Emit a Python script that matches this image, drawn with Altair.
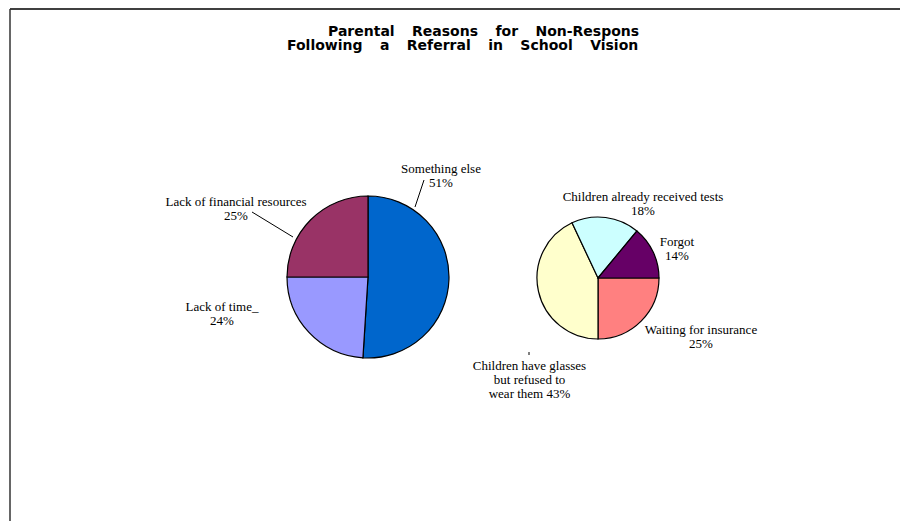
import math
import pandas as pd
import altair as alt

# ---------------- data ----------------
left_cats = ["Something else", "Lack of time_", "Lack of financial resources"]
left_vals = [51, 24, 25]
left_colors = ["#0066CC", "#9999FF", "#993366"]

right_cats = ["Waiting for insurance",
              "Children have glasses\nbut refused to\nwear them",
              "Children already received tests",
              "Forgot"]
right_vals = [25, 43, 18, 14]
right_colors = ["#FF8080", "#FFFFCC", "#CCFFFF", "#660066"]
right_joins = ["\n", " ", "\n", "\n"]

# the reference title is cut off at its right edge
title_lines = ["Parental Reasons for Non-Respons",
               "Following a Referral in School Vision"]

# ---------------- layout ----------------
W, H = 900, 521
LEFT_C, LEFT_R, LEFT_START = (368, 277), 81, 0.0
RIGHT_C, RIGHT_R, RIGHT_START = (598, 278), 61, math.pi / 2
# position of the first line of each label (centre x, middle y)
left_label_xy = [(441, 169), (222, 307), (236, 201.5)]
right_label_xy = [(701, 330), (529.5, 366), (643, 196.5), (677, 241.5)]
leader_lines = [(424, 180, 415, 207), (252, 212, 293, 237), (529, 352, 529, 355)]
title_xy = [(328, 36), (287, 50)]
GAP = "\u00a0" * 3 + "\u2009"


def pie(cats, vals, colors, center, r, start):
    df = pd.DataFrame({"cat": cats, "val": vals, "color": colors,
                       "ord": list(range(len(cats)))})
    return alt.Chart(df).mark_arc(radius=r, stroke="black", strokeWidth=1.2).encode(
        theta=alt.Theta("val:Q", stack=True,
                        scale=alt.Scale(domain=[0, sum(vals)],
                                        range=[start, start + 2 * math.pi])),
        color=alt.Color("color:N", scale=None),
        order=alt.Order("ord:Q"),
        x=alt.value(center[0]),
        y=alt.value(center[1]),
    )


left_pie = pie(left_cats, left_vals, left_colors, LEFT_C, LEFT_R, LEFT_START)
right_pie = pie(right_cats, right_vals, right_colors, RIGHT_C, RIGHT_R, RIGHT_START)

labels = []
for c, v, (lx, ly) in zip(left_cats, left_vals, left_label_xy):
    labels.append({"label": f"{c}\n{v}%", "lx": lx, "ly": ly})
for c, v, j, (lx, ly) in zip(right_cats, right_vals, right_joins, right_label_xy):
    labels.append({"label": f"{c}{j}{v}%", "lx": lx, "ly": ly})
labels_df = pd.DataFrame(labels)

label_layer = alt.Chart(labels_df).mark_text(
    font="Liberation Serif", fontSize=13, lineBreak="\n", lineHeight=14,
    align="center", baseline="middle", color="black"
).encode(
    x=alt.X("lx:Q", scale=None),
    y=alt.Y("ly:Q", scale=None),
    text="label:N",
)

lines_df = pd.DataFrame(leader_lines, columns=["x", "y", "x2", "y2"])
leader_layer = alt.Chart(lines_df).mark_rule(color="black", strokeWidth=1).encode(
    x=alt.X("x:Q", scale=None), y=alt.Y("y:Q", scale=None),
    x2="x2:Q", y2="y2:Q",
)

title_df = pd.DataFrame({
    "t": [t.replace(" ", GAP) for t in title_lines],
    "tx": [p[0] for p in title_xy],
    "ty": [p[1] for p in title_xy],
})
title_layer = alt.Chart(title_df).mark_text(
    font="DejaVu Sans", fontSize=14, fontWeight="bold",
    align="left", baseline="alphabetic", color="black"
).encode(x=alt.X("tx:Q", scale=None), y=alt.Y("ty:Q", scale=None), text="t:N")

frame_top = alt.Chart(pd.DataFrame({"a": [0]})).mark_rule(color="black", strokeWidth=1.5).encode(
    x=alt.value(10), x2=alt.value(W), y=alt.value(9))
frame_left = alt.Chart(pd.DataFrame({"a": [0]})).mark_rule(color="#333333", strokeWidth=1.5).encode(
    x=alt.value(10), y=alt.value(9), y2=alt.value(H))

chart = alt.layer(
    frame_top, frame_left, left_pie, right_pie, leader_layer, label_layer, title_layer
).resolve_scale(theta="independent").properties(
    width=W, height=H, padding=0,
    autosize=alt.AutoSizeParams(type="none"),
    background="white",
).configure_view(stroke=None)

chart.save("out.html", embed_options={"renderer": "svg", "actions": False})
